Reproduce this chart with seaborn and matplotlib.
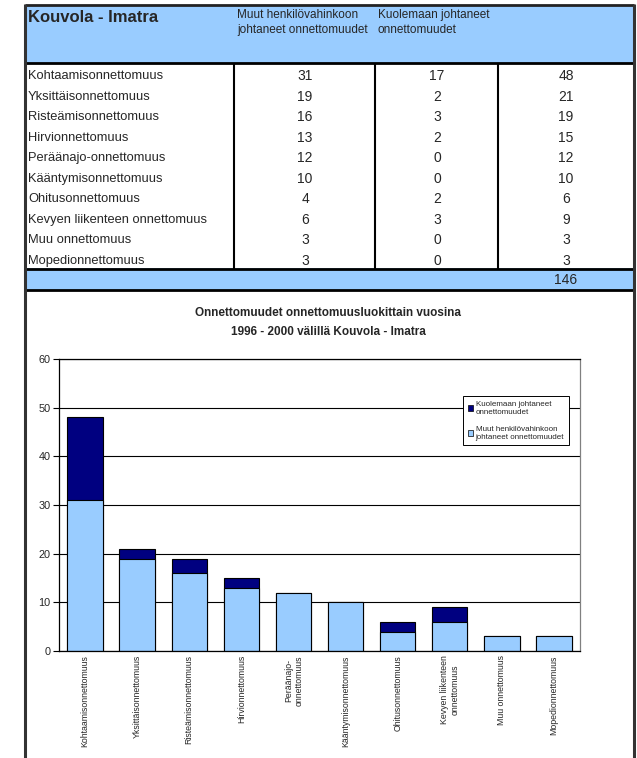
import matplotlib
matplotlib.use("Agg")
import matplotlib.pyplot as plt
import seaborn as sns
import pandas as pd
from matplotlib.lines import Line2D
from matplotlib.patches import Rectangle, Patch

# Accident classes, Kouvola - Imatra, 1996-2000
categories = ["Kohtaamisonnettomuus", "Yksittäisonnettomuus", "Risteämisonnettomuus",
              "Hirvionnettomuus", "Peräänajo-onnettomuus", "Kääntymisonnettomuus",
              "Ohitusonnettomuus", "Kevyen liikenteen onnettomuus", "Muu onnettomuus",
              "Mopedionnettomuus"]
tick_labels = ["Kohtaamisonnettomuus", "Yksittäisonnettomuus", "Risteämisonnettomuus",
               "Hirvionnettomuus", "Peräänajo-\nonnettomuus", "Kääntymisonnettomuus",
               "Ohitusonnettomuus", "Kevyen liikenteen\nonnettomuus", "Muu onnettomuus",
               "Mopedionnettomuus"]
injury = [31, 19, 16, 13, 12, 10, 4, 6, 3, 3]
fatal = [17, 2, 3, 2, 0, 0, 2, 3, 0, 0]
totals = [48, 21, 19, 15, 12, 10, 6, 9, 3, 3]
grand_total = 146

series_injury = "Muut henkilövahinkoon\njohtaneet onnettomuudet"
series_fatal = "Kuolemaan johtaneet\nonnettomuudet"
table_title = "Kouvola - Imatra"
chart_title = ["Onnettomuudet onnettomuusluokittain vuosina",
               "1996 - 2000 välillä Kouvola - Imatra"]

LIGHT = "#99CCFF"
NAVY = "#000080"

sns.set_theme(style="white")
plt.rcParams["font.family"] = ["Liberation Sans", "DejaVu Sans"]

W, H = 637, 758
fig = plt.figure(figsize=(W / 100, H / 100), dpi=100)
fig.patch.set_facecolor("white")


def fx(x):
    return x / W


def fy(y):
    return 1 - y / H


def hline(y, x0, x1, lw, color="black"):
    fig.add_artist(Line2D([fx(x0), fx(x1)], [fy(y), fy(y)], lw=lw, color=color,
                          transform=fig.transFigure, solid_capstyle="butt"))


def vline(x, y0, y1, lw, color="black"):
    fig.add_artist(Line2D([fx(x), fx(x)], [fy(y0), fy(y1)], lw=lw, color=color,
                          transform=fig.transFigure, solid_capstyle="butt"))


# ---- table ----
L, R = 25, 634
col_lines = [234, 375, 498]
col_centers = [305, 437, 566]

fig.add_artist(Rectangle((fx(L), fy(63)), fx(R) - fx(L), fy(5) - fy(63),
                         facecolor=LIGHT, edgecolor="none", transform=fig.transFigure))
fig.add_artist(Rectangle((fx(L), fy(290)), fx(R) - fx(L), fy(268) - fy(290),
                         facecolor=LIGHT, edgecolor="none", transform=fig.transFigure))

fig.text(fx(28), fy(18), table_title, fontsize=12, fontweight="bold", va="center", ha="left")
for cx, txt in zip(col_lines[:2], (series_injury, series_fatal)):
    fig.text(fx(cx + 3), fy(9), txt, fontsize=8.5, va="top", ha="left", linespacing=1.35)

row_y0, row_dy = 76, 20.56
for i, name in enumerate(categories):
    y = row_y0 + i * row_dy
    fig.text(fx(28), fy(y), name, fontsize=9.3, va="center", ha="left")
    for cx, v in zip(col_centers, (injury[i], fatal[i], totals[i])):
        fig.text(fx(cx), fy(y), str(v), fontsize=10, va="center", ha="center")
fig.text(fx(col_centers[2]), fy(279.5), str(grand_total), fontsize=10, va="center", ha="center")

hline(5, L, R, 2.0, "#222222")
hline(63, L, R, 2.0)
hline(268.5, L, R, 2.0)
hline(290, L, R, 2.0)
for cx in col_lines:
    vline(cx, 63, 268.5, 1.5)
vline(L, 4, H, 2.2, "#333333")
vline(R, 4, H, 2.2, "#333333")

# ---- chart ----
for ty, line in zip((313, 332), chart_title):
    fig.text(fx(328), fy(ty), line, fontsize=8.5, fontweight="bold", ha="center", va="center")

ax = fig.add_axes([fx(59), fy(651), fx(580) - fx(59), fy(359) - fy(651)])
df = pd.DataFrame({"luokka": categories, "muut": injury, "kuolemaan": fatal, "yhteensa": totals})

sns.barplot(data=df, x="luokka", y="yhteensa", order=categories, color=NAVY, saturation=1,
            width=0.68, edgecolor="black", linewidth=0.8, ax=ax)
sns.barplot(data=df, x="luokka", y="muut", order=categories, color=LIGHT, saturation=1,
            width=0.68, edgecolor="black", linewidth=0.8, ax=ax)

ax.set_xlim(-0.5, len(categories) - 0.5)
ax.set_ylim(0, 60)
ax.set_yticks(range(0, 61, 10))
ax.set_xlabel("")
ax.set_ylabel("")
ax.set_xticks(range(len(categories)))
ax.set_xticklabels(tick_labels, rotation=90, fontsize=6.3, ha="center", va="top",
                   multialignment="center")
ax.set_xticks([i - 0.5 for i in range(len(categories) + 1)], minor=True)
ax.tick_params(axis="x", which="major", length=0, pad=3)
ax.tick_params(axis="x", which="minor", length=4, width=0.8, color="black", direction="out")
ax.tick_params(axis="y", length=4, width=0.8, color="black", direction="out",
               labelsize=7.8, pad=2, left=True)
ax.yaxis.grid(True, color="black", linewidth=0.8)
ax.set_axisbelow(True)
for side in ("left", "bottom", "top"):
    ax.spines[side].set_color("black")
    ax.spines[side].set_linewidth(0.9)
ax.spines["right"].set_color("#808080")
ax.spines["right"].set_linewidth(0.9)

handles = [Patch(facecolor=NAVY, edgecolor="black", linewidth=0.5),
           Patch(facecolor=LIGHT, edgecolor="black", linewidth=0.5)]
leg = ax.legend(handles, [series_fatal, series_injury], loc="upper right",
                bbox_to_anchor=(fx(573), fy(392)), bbox_transform=fig.transFigure,
                fontsize=5.8, frameon=True, fancybox=False, borderpad=0.6,
                handlelength=0.7, handleheight=0.7, handletextpad=0.3, labelspacing=1.2)
leg.get_frame().set_edgecolor("black")
leg.get_frame().set_linewidth(0.7)
leg.get_frame().set_alpha(1)

fig.savefig("out.png", dpi=100)
